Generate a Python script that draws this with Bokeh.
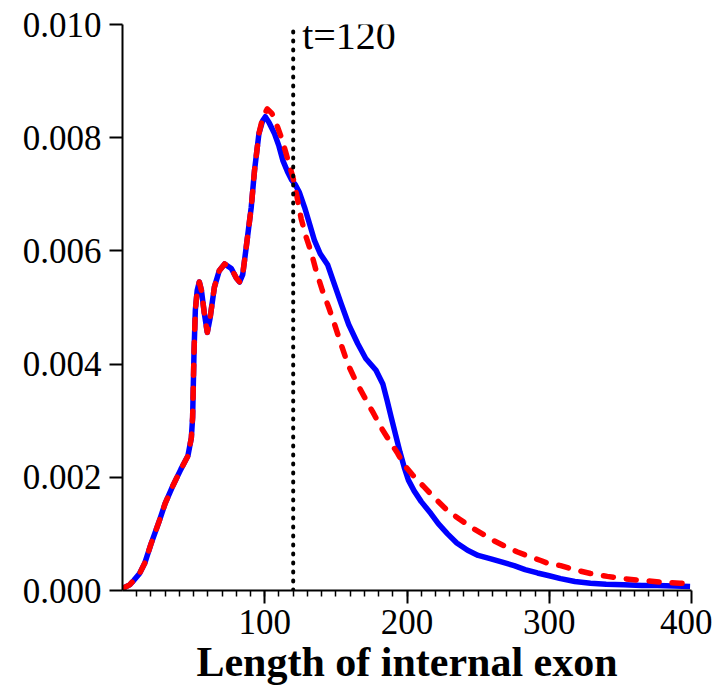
from bokeh.plotting import figure
from bokeh.models import FixedTicker, NumeralTickFormatter, Range1d, Label, ColumnDataSource
from bokeh.embed import file_html
from bokeh.resources import INLINE

# ---- data ----
blue_x = [1, 5, 8, 12, 15.6, 20, 26, 30, 35.6, 41, 46, 48.4, 49.3, 50.3, 51.2, 52.5, 54, 55.5,
          57.5, 59.6, 61.5, 64.6, 68, 71.8, 76.5, 80, 82.3, 84.5, 87, 90.5, 92.8, 95.9, 98.5,
          100.4, 103, 106.9, 110, 112.7, 116, 119, 121.5, 124.4, 128, 131, 135, 139, 144.3,
          148, 153.7, 159, 165.4, 171, 178.2, 183, 186, 189, 192, 195, 198, 201, 205,
          210, 216.8, 222, 228.5, 235, 242.6, 250, 259, 267, 275.3, 283, 291.7, 300, 308,
          318, 329, 340, 352.5, 365, 376, 388, 399]
blue_y = [0.00005, 0.0001, 0.00018, 0.0003, 0.00048, 0.00082, 0.00124, 0.00154, 0.00186,
          0.00214, 0.00238, 0.0027, 0.00306, 0.00424, 0.00495, 0.0053, 0.00545, 0.0053,
          0.0049, 0.00456, 0.0048, 0.00536, 0.00565, 0.00577, 0.00569, 0.00552, 0.00545,
          0.00558, 0.00607, 0.00677, 0.00742, 0.00807, 0.0083, 0.00837, 0.00827, 0.00807,
          0.00785, 0.0076, 0.0074, 0.00725, 0.00717, 0.00703, 0.00677, 0.00652, 0.00618,
          0.00595, 0.00575, 0.00548, 0.00507, 0.0047, 0.00436, 0.0041, 0.00389, 0.00365,
          0.00336, 0.00305, 0.00275, 0.00245, 0.00218, 0.00195, 0.00176, 0.00157, 0.00136,
          0.00118, 0.001, 0.00084, 0.00071, 0.00062, 0.00056, 0.0005, 0.00044, 0.00037,
          0.00031, 0.00026, 0.00021, 0.00016, 0.00013, 0.00011, 0.0001, 0.00009, 0.00009,
          0.00008, 0.00007]

red_x = [1, 5, 8, 12, 15.6, 20, 26, 30, 35.6, 41, 46, 48.4, 49.3, 50.3, 51.2, 52.5, 54, 55.5,
         57.5, 59.6, 61.5, 64.6, 68, 71.8, 76.5, 80, 82.3, 84.5, 87, 90.5, 92.8, 95.9, 98.5,
         101.8, 105, 109, 112, 115, 119.8, 122.5, 125.6, 129, 132.6, 136, 140.5, 145, 149,
         153.5, 158.4, 164, 170, 176, 181.8, 187.5, 193.5, 198, 204, 212, 220, 228.5, 237,
         245, 253, 261, 269, 277.7, 286, 294, 300, 308, 317.4, 329, 340.8, 352, 364, 378,
         392, 398]
red_y = [0.00005, 0.0001, 0.00018, 0.0003, 0.00048, 0.00082, 0.00124, 0.00154, 0.00186,
         0.00214, 0.00238, 0.0027, 0.00306, 0.00424, 0.00495, 0.0053, 0.00545, 0.0053,
         0.0049, 0.00456, 0.0048, 0.00536, 0.00565, 0.00577, 0.00569, 0.00552, 0.00545,
         0.00558, 0.00607, 0.00677, 0.00742, 0.00807, 0.00835, 0.00851, 0.00843, 0.00819,
         0.00798, 0.00772, 0.0073, 0.00698, 0.00657, 0.00625, 0.00598, 0.00566, 0.0053,
         0.005, 0.00471, 0.00436, 0.004, 0.0037, 0.00342, 0.00315, 0.00288, 0.00265,
         0.00242, 0.00222, 0.00204, 0.00183, 0.00162, 0.00141, 0.00126, 0.00112, 0.001,
         0.00088, 0.00078, 0.00068, 0.0006, 0.00053, 0.00047, 0.00044, 0.00037, 0.0003,
         0.00025, 0.00021, 0.00018, 0.00015, 0.00013, 0.00012]

threshold = 120
threshold_label = "t=120"
x_ticks = [100, 200, 300, 400]
x_minor = list(range(10, 400, 10))
y_ticks = [0.0, 0.002, 0.004, 0.006, 0.008, 0.010]
x_label = "Length of internal exon"

FONT = "Liberation Serif"

p = figure(width=712, height=687, output_backend="svg", toolbar_location=None,
           x_range=Range1d(0, 400), y_range=Range1d(0, 0.010),
           min_border_left=122, min_border_right=21, min_border_top=24, min_border_bottom=97)
p.outline_line_color = None
p.xgrid.visible = False
p.ygrid.visible = False
p.background_fill_color = "white"

p.line(blue_x, blue_y, line_color="#0000ff", line_width=5.5, line_join="round")
p.line(red_x, red_y, line_color="#ff0000", line_width=5.5, line_dash="10 13",
       line_cap="round", line_join="round")

vsrc = ColumnDataSource(dict(x=[threshold, threshold], y=[0.0, 0.010]))
p.line("x", "y", source=vsrc, line_color="black", line_width=4, line_dash="1 8",
       line_cap="round")

p.add_layout(Label(x=threshold, y=0.0098, x_offset=9, text=threshold_label,
                   text_font=FONT, text_font_size="40px", text_color="black",
                   text_baseline="alphabetic"))

xa = p.xaxis[0]
xa.ticker = FixedTicker(ticks=x_ticks, minor_ticks=x_minor)
xa.axis_label = x_label
xa.axis_label_text_font = FONT
xa.axis_label_text_font_style = "bold"
xa.axis_label_text_font_size = "42px"
xa.axis_label_text_color = "black"
xa.axis_label_standoff = 2
xa.major_label_text_font = FONT
xa.major_label_text_font_size = "35px"
xa.major_label_text_color = "black"
xa.major_label_standoff = 6
xa.major_tick_out = 13
xa.major_tick_in = 0
xa.minor_tick_out = 6
xa.minor_tick_in = 0
xa.axis_line_width = 2
xa.major_tick_line_width = 2
xa.minor_tick_line_width = 1.5

ya = p.yaxis[0]
ya.ticker = FixedTicker(ticks=y_ticks, minor_ticks=[])
ya.formatter = NumeralTickFormatter(format="0.000")
ya.major_label_text_font = FONT
ya.major_label_text_font_size = "35px"
ya.major_label_text_color = "black"
ya.major_label_standoff = 8
ya.major_tick_out = 13
ya.major_tick_in = 0
ya.minor_tick_out = 0
ya.minor_tick_in = 0
ya.axis_line_width = 2
ya.major_tick_line_width = 2

open("out.html", "w").write(file_html(p, INLINE))
